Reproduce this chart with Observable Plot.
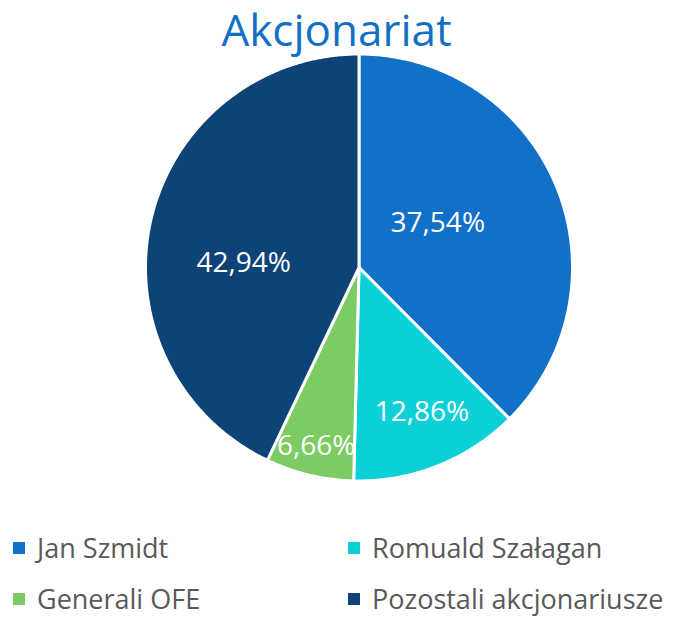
<!DOCTYPE html>
<html>
<head>
<meta charset="utf-8">
<script src="https://cdn.jsdelivr.net/npm/d3@7"></script>
<script src="https://cdn.jsdelivr.net/npm/@observablehq/plot@0.6"></script>
<style>
  html, body { margin: 0; padding: 0; background: #fff; }
  body { width: 673px; height: 618px; overflow: hidden; font-family: "Open Sans", sans-serif; position: relative; }
  #title { height: 52px; line-height: 58px; text-align: center; font-size: 44px; color: #1170C6; }
  #chart svg { display: block; }
  .item { position: absolute; display: flex; align-items: center; height: 26px; line-height: 26px; font-size: 27px; color: #595959; white-space: nowrap; }
  .sw { width: 12px; height: 12px; margin-right: 12px; flex: none; }
</style>
</head>
<body>
<div id="title">Akcjonariat</div>
<div id="chart"></div>
<script>
const categories = ["Jan Szmidt", "Romuald Szałagan", "Generali OFE", "Pozostali akcjonariusze"];
const shares = [37.54, 12.86, 6.66, 42.94];
const labels = ["37,54%", "12,86%", "6,66%", "42,94%"];
const colors = ["#1170C8", "#0CD0D8", "#7DCB63", "#0E4377"];

// Layout constants (pixels / radius units)
const W = 673, H = 440, R = 213.5, CX = 358.5, CY = 215;
// label anchor: [angle in degrees clockwise from 12 o'clock, distance as fraction of radius]
const labelAnchor = [[60.3, 0.425], [156.5, 0.74], [193.5, 0.86], [272, 0.54]];

const pie = d3.pie().sort(null).value(d => d.share);
const table = categories.map((c, i) => ({category: c, share: shares[i], label: labels[i], i}));
const arcs = pie(table);

// Slice polygons (in radius units) from pie angles
const poly = [];
arcs.forEach(a => {
  const n = Math.max(2, Math.ceil((a.endAngle - a.startAngle) / 0.01));
  poly.push({category: a.data.category, x: 0, y: 0});
  for (let k = 0; k <= n; k++) {
    const t = a.startAngle + (a.endAngle - a.startAngle) * k / n;
    poly.push({category: a.data.category, x: Math.sin(t), y: Math.cos(t)});
  }
});
const labelData = arcs.map((a, i) => {
  const t = labelAnchor[i][0] * Math.PI / 180, r = labelAnchor[i][1];
  return {label: a.data.label, x: r * Math.sin(t), y: r * Math.cos(t)};
});

const xMin = -CX / R, xMax = (W - CX) / R;
const yMax = CY / R, yMin = -(H - CY) / R;

const chart = Plot.plot({
  width: W, height: H,
  margin: 0,
  x: {domain: [xMin, xMax], axis: null},
  y: {domain: [yMin, yMax], axis: null},
  color: {domain: categories, range: colors},
  marks: [
    Plot.line(poly, {x: "x", y: "y", z: "category", fill: "category", stroke: "white", strokeWidth: 3, strokeLinejoin: "round", curve: "linear-closed"}),
    Plot.text(labelData, {x: "x", y: "y", text: "label", fill: "white", fontSize: 28, fontFamily: "'Open Sans', sans-serif"})
  ]
});
document.getElementById("chart").appendChild(chart);

const pos = [[13, 535], [348, 535], [13, 586], [348, 586]];
categories.forEach((c, i) => {
  const d = document.createElement("div");
  d.className = "item";
  d.style.left = pos[i][0] + "px";
  d.style.top = pos[i][1] + "px";
  d.innerHTML = `<span class="sw" style="background:${colors[i]}"></span><span>${c}</span>`;
  document.body.appendChild(d);
});
</script>
</body>
</html>
